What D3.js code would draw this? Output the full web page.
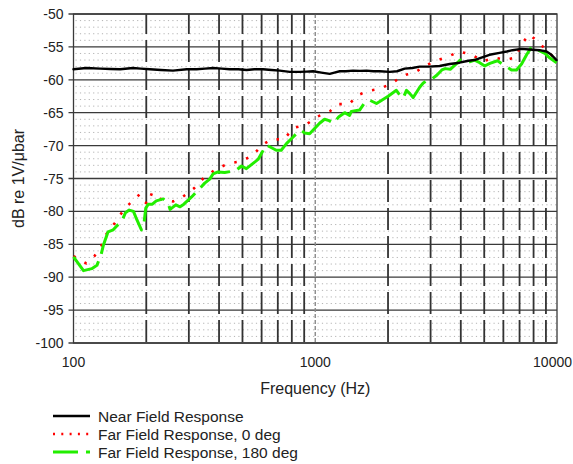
<!DOCTYPE html>
<html>
<head>
<meta charset="utf-8">
<script src="https://cdn.jsdelivr.net/npm/d3@7"></script>
<style>
  body { margin: 0; background: #fff; }
  svg { display: block; font-family: "Liberation Sans", Arial, sans-serif; }
</style>
</head>
<body>
<div id="chart"></div>
<script>
// Achsen
const yTicks = [-50, -55, -60, -65, -70, -75, -80, -85, -90, -95, -100];
const xTicks = [100, 1000, 10000];
const xMinor = [200, 300, 400, 500, 600, 700, 800, 900, 2000, 3000, 4000, 5000, 6000, 7000, 8000, 9000];

// Near Field Response
const freqNear = [100, 113, 129, 142, 156, 176, 190, 207, 230, 258, 294, 323, 350, 378, 410, 443, 480, 520, 560, 608, 660, 713, 785, 863, 920, 979, 1060, 1148, 1200, 1263, 1340, 1433, 1530, 1629, 1740, 1849, 2033, 2180, 2344, 2520, 2704, 2960, 3268, 3600, 3953, 4300, 4560, 4800, 5259, 5784, 6200, 6546, 7129, 7691, 8459, 9052, 9483, 9954];
const nearField = [-58.4, -58.2, -58.3, -58.35, -58.4, -58.2, -58.3, -58.4, -58.5, -58.6, -58.4, -58.4, -58.3, -58.2, -58.3, -58.4, -58.4, -58.5, -58.4, -58.4, -58.5, -58.6, -58.8, -58.8, -58.75, -58.7, -58.9, -59.1, -58.9, -58.7, -58.7, -58.6, -58.65, -58.6, -58.7, -58.7, -58.8, -58.7, -58.3, -58.2, -58.0, -58.0, -57.9, -57.6, -57.4, -57.1, -57.0, -56.7, -56.2, -55.9, -55.7, -55.5, -55.3, -55.4, -55.5, -55.7, -56.2, -57.0];

// Far Field Response, 0 deg
const freqFar0 = [100, 113, 122, 130, 136, 148, 159, 171, 188, 196, 203, 211, 232, 258, 283, 315, 346, 388, 438, 491, 551, 604, 662, 739, 815, 910, 1020, 1148, 1244, 1382, 1490, 1643, 1834, 2064, 2217, 2388, 2558, 2826, 3158, 3522, 3953, 4438, 4956, 5498, 6101, 6743, 7085, 7691, 8376, 9816];
const farField0 = [-86.8, -87.9, -86.8, -85.4, -83.6, -81.8, -80.1, -78.8, -77.4, -78.5, -78.9, -77.2, -78.2, -78.5, -77.8, -76.5, -74.9, -73.6, -72.7, -72.4, -71.5, -69.9, -69.0, -69.1, -67.3, -66.9, -65.6, -64.8, -63.7, -63.7, -62.4, -61.7, -61.4, -60.6, -59.8, -59.2, -59.0, -57.95, -57.1, -56.5, -55.7, -56.2, -57.2, -56.6, -57.0, -56.6, -54.7, -53.1, -54.3, -56.8];

// Far Field Response, 180 deg
const freqFar180 = [100, 110, 119, 125, 130, 133, 139, 146, 152, 158, 164, 170, 177, 183, 191, 196, 199, 204, 212, 220, 235, 246, 251, 265, 276, 286, 308, 333, 349, 366, 378, 396, 422, 469, 495, 519, 553, 580, 599, 627, 690, 723, 760, 810, 850, 877, 904, 948, 1042, 1093, 1141, 1192, 1253, 1323, 1387, 1410, 1526, 1600, 1679, 1792, 1849, 2002, 2165, 2236, 2309, 2384, 2462, 2542, 2709, 2797, 2936, 3032, 3182, 3339, 3447, 3618, 3980, 4146, 4350, 4565, 4790, 5026, 5275, 5674, 6180, 6483, 6801, 7136, 7486, 7853, 8910, 9348, 9966];
const farField180 = [-86.9, -89.0, -88.7, -88.2, -86.6, -85.1, -83.1, -82.8, -82.1, -81.6, -80.2, -79.8, -80.0, -81.3, -82.8, -81.6, -79.5, -78.9, -78.9, -78.4, -78.1, -78.7, -79.7, -79.0, -79.3, -78.9, -77.8, -76.5, -75.7, -75.1, -74.3, -74.0, -74.1, -73.8, -73.1, -73.5, -72.7, -72.1, -71.2, -69.9, -70.7, -70.7, -69.7, -68.7, -67.9, -67.7, -68.1, -68.2, -66.6, -66.0, -66.2, -66.6, -65.6, -65.0, -65.4, -64.8, -64.6, -63.5, -63.1, -63.6, -63.3, -62.5, -61.6, -62.3, -62.8, -61.6, -62.1, -62.7, -61.1, -60.5, -60.0, -59.9, -59.3, -58.5, -58.3, -58.4, -57.0, -57.1, -57.25, -57.0, -57.4, -57.9, -57.5, -57.1, -58.0, -58.5, -58.5, -57.6, -56.2, -55.0, -56.0, -56.7, -57.4];

const series = [
    { name: "Near Field Response", f: freqNear, v: nearField, color: "#000000", width: 2.4, dash: null, legendDash: null },
    { name: "Far Field Response, 0 deg", f: freqFar0, v: farField0, color: "#ff0000", width: 2.6, dash: "2.5,10", legendDash: "2,6.3" },
    { name: "Far Field Response, 180 deg", f: freqFar180, v: farField180, color: "#22ee00", width: 3, dash: "36,8", legendDash: "25,8" }
];

function renderChart() {
    const width = 573, height = 464;
    const margin = { top: 14, right: 16, bottom: 121, left: 73.5 };

    const svg = d3.select("#chart")
        .append("svg")
        .attr("width", width)
        .attr("height", height);

    const x = d3.scaleLog()
        .domain([100, 10000])
        .range([margin.left, width - margin.right]);

    const y = d3.scaleLinear()
        .domain([-100, -50])
        .range([height - margin.bottom, margin.top]);

    const x0 = x.range()[0], x1 = x.range()[1];
    const yTop = y(-50), yBot = y(-100);

    // gepunktete Hilfslinien je 1 dB
    const minorY = d3.range(-99, -50).filter(d => d % 5 !== 0);
    svg.append("g")
        .selectAll("line")
        .data(minorY)
        .enter()
        .append("line")
        .attr("x1", x0 + 2).attr("x2", x1)
        .attr("y1", d => y(d)).attr("y2", d => y(d))
        .attr("stroke", "#b4b4b4")
        .attr("stroke-width", 1)
        .attr("stroke-dasharray", "1.2,3.2");

    // Hauptlinien je 5 dB (mit Tick nach links)
    svg.append("g")
        .selectAll("line")
        .data(yTicks)
        .enter()
        .append("line")
        .attr("x1", x0 - 5).attr("x2", x1)
        .attr("y1", d => y(d)).attr("y2", d => y(d))
        .attr("stroke", "#3a3a3a")
        .attr("stroke-width", 1.3);

    // vertikale Zwischenlinien (gestrichelt, dunkel)
    svg.append("g")
        .selectAll("line")
        .data(xMinor)
        .enter()
        .append("line")
        .attr("x1", d => x(d)).attr("x2", d => x(d))
        .attr("y1", yTop).attr("y2", yBot)
        .attr("stroke", "#333")
        .attr("stroke-width", 1.8)
        .attr("stroke-dasharray", "22,6")
        .attr("stroke-dashoffset", 2);

    // 1000 Hz Linie
    svg.append("line")
        .attr("x1", x(1000)).attr("x2", x(1000))
        .attr("y1", yTop).attr("y2", yBot)
        .attr("stroke", "#8a8a8a")
        .attr("stroke-width", 1.4)
        .attr("stroke-dasharray", "4,2");

    // Rahmen
    svg.append("rect")
        .attr("x", x0).attr("y", yTop)
        .attr("width", x1 - x0).attr("height", yBot - yTop)
        .attr("fill", "none")
        .attr("stroke", "#3a3a3a")
        .attr("stroke-width", 1.3);

    // Kurven
    const line = d3.line()
        .x(d => x(d[0]))
        .y(d => y(d[1]));

    const order = [1, 2, 0];
    order.forEach(i => {
        const s = series[i];
        const pts = s.f.map((f, k) => [f, s.v[k]]);
        svg.append("path")
            .datum(pts)
            .attr("d", line)
            .attr("fill", "none")
            .attr("stroke", s.color)
            .attr("stroke-width", s.width)
            .attr("stroke-linejoin", "round")
            .attr("stroke-linecap", s.dash ? "butt" : "round")
            .attr("stroke-dasharray", s.dash);
    });

    // Y-Beschriftung
    svg.append("g")
        .selectAll("text")
        .data(yTicks)
        .enter()
        .append("text")
        .attr("x", x0 - 10)
        .attr("y", d => y(d))
        .attr("dy", "0.36em")
        .attr("text-anchor", "end")
        .style("font-size", "14px")
        .attr("fill", "#222")
        .text(d => d);

    // X-Beschriftung (letzte rechtsbündig, damit sie nicht abgeschnitten wird)
    svg.append("g")
        .selectAll("text")
        .data(xTicks)
        .enter()
        .append("text")
        .attr("x", d => d === 10000 ? width - 1 : x(d))
        .attr("y", yBot + 24)
        .attr("text-anchor", d => d === 10000 ? "end" : "middle")
        .style("font-size", "14px")
        .attr("fill", "#222")
        .text(d => d);

    svg.append("text")
        .attr("x", x(1000))
        .attr("y", yBot + 51)
        .attr("text-anchor", "middle")
        .style("font-size", "16px")
        .attr("fill", "#222")
        .text("Frequency (Hz)");

    svg.append("text")
        .attr("transform", `translate(24,${(yTop + yBot) / 2}) rotate(-90)`)
        .attr("text-anchor", "middle")
        .style("font-size", "16px")
        .attr("fill", "#222")
        .text("dB re 1V/μbar");

    // Legende
    const legend = svg.append("g")
        .selectAll("g")
        .data(series)
        .enter()
        .append("g")
        .attr("transform", (d, i) => `translate(53,${416 + i * 18})`);

    legend.append("line")
        .attr("x1", 0).attr("x2", 37)
        .attr("y1", 0).attr("y2", 0)
        .attr("stroke", d => d.color)
        .attr("stroke-width", d => d.width)
        .attr("stroke-dasharray", d => d.legendDash);

    legend.append("text")
        .attr("x", 45)
        .attr("y", 0)
        .attr("dy", "0.36em")
        .style("font-size", "15.5px")
        .attr("fill", "#222")
        .text(d => d.name);
}

renderChart();
</script>
</body>
</html>
